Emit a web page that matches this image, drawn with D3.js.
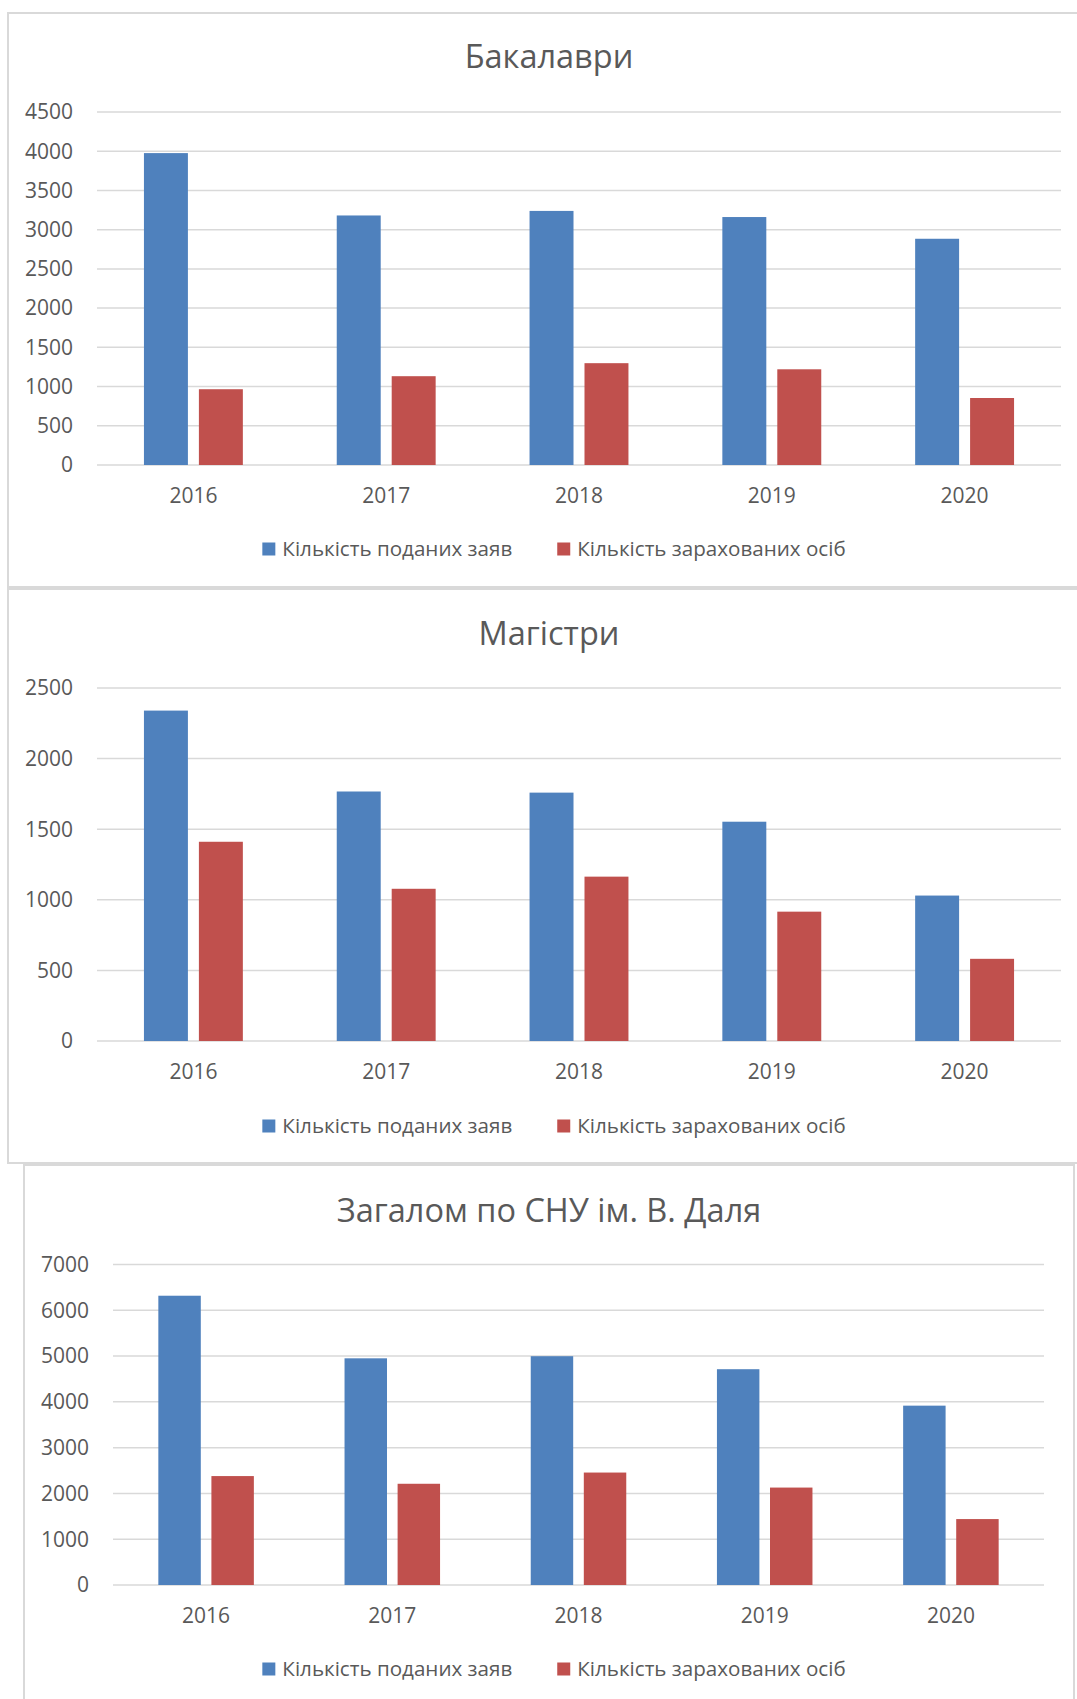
<!DOCTYPE html>
<html>
<head>
    <meta charset="utf-8">
    <script src="https://cdn.jsdelivr.net/npm/d3@7/dist/d3.min.js"></script>
    <title>Вступ СНУ ім. В. Даля</title>
    <style>
        body {
            margin: 0;
            background-color: #ffffff;
            font-family: "Open Sans", sans-serif;
        }
        .frame { fill: #ffffff; stroke: #d9d9d9; stroke-width: 2; }
        .grid line { stroke: #d9d9d9; stroke-width: 1.5; }
        .lbl { fill: #595959; }
    </style>
</head>
<body>
<svg width="1077" height="1699"></svg>

<script>
    // дані, зчитані з діаграм
    const years = ["2016", "2017", "2018", "2019", "2020"];
    const seriesNames = ["Кількість поданих заяв", "Кількість зарахованих осіб"];
    const seriesColors = ["#4f81bd", "#c0504d"];

    const bachelorApplied = [3976, 3181, 3239, 3161, 2884];
    const bachelorEnrolled = [966, 1132, 1298, 1220, 854];

    const masterApplied = [2340, 1767, 1759, 1553, 1030];
    const masterEnrolled = [1411, 1078, 1164, 916, 582];

    const totalApplied = [6318, 4951, 4997, 4713, 3917];
    const totalEnrolled = [2379, 2211, 2456, 2128, 1440];

    const bachelorTicks = [0, 500, 1000, 1500, 2000, 2500, 3000, 3500, 4000, 4500];
    const masterTicks = [0, 500, 1000, 1500, 2000, 2500];
    const totalTicks = [0, 1000, 2000, 3000, 4000, 5000, 6000, 7000];

    const svg = d3.select("svg");

    // розміщення кожної діаграми на сторінці
    const charts = [
        {
            title: "Бакалаври", applied: bachelorApplied, enrolled: bachelorEnrolled, ticks: bachelorTicks,
            frame: [8, 13, 1082, 574], left: 97, right: 1061, top: 112, bottom: 465,
            titleY: 68, xLabelY: 503, legendY: 549
        },
        {
            title: "Магістри", applied: masterApplied, enrolled: masterEnrolled, ticks: masterTicks,
            frame: [8, 589, 1082, 574], left: 97, right: 1061, top: 688, bottom: 1041,
            titleY: 645, xLabelY: 1079, legendY: 1126
        },
        {
            title: "Загалом по СНУ ім. В. Даля", applied: totalApplied, enrolled: totalEnrolled, ticks: totalTicks,
            frame: [24, 1165, 1050, 600], left: 113, right: 1044, top: 1264.5, bottom: 1585,
            titleY: 1222, xLabelY: 1623, legendY: 1669
        }
    ];

    charts.forEach(function (c) {
        const g = svg.append("g");

        g.append("rect").attr("class", "frame")
            .attr("x", c.frame[0]).attr("y", c.frame[1])
            .attr("width", c.frame[2]).attr("height", c.frame[3]);

        const x = d3.scaleBand()
            .domain(years)
            .range([c.left, c.right])
            .paddingInner(0.487)
            .paddingOuter(0.2435);

        const xSub = d3.scaleBand()
            .domain([0, 1])
            .range([0, x.bandwidth()])
            .paddingInner(0.2);

        const y = d3.scaleLinear()
            .domain([0, d3.max(c.ticks)])
            .range([c.bottom, c.top]);

        // сітка
        g.append("g").attr("class", "grid")
            .selectAll("line")
            .data(c.ticks)
            .enter().append("line")
            .attr("x1", c.left).attr("x2", c.right)
            .attr("y1", d => y(d)).attr("y2", d => y(d));

        // підписи осі Y
        g.append("g")
            .selectAll("text")
            .data(c.ticks)
            .enter().append("text")
            .attr("class", "lbl")
            .attr("x", c.left - 24)
            .attr("y", d => y(d))
            .attr("dy", "0.35em")
            .attr("text-anchor", "end")
            .style("font-size", "21px")
            .text(d => d);

        // стовпчики
        const rows = years.map((yr, i) => ({year: yr, values: [c.applied[i], c.enrolled[i]]}));
        const groups = g.append("g")
            .selectAll("g")
            .data(rows)
            .enter().append("g")
            .attr("transform", d => "translate(" + x(d.year) + ",0)");

        groups.selectAll("rect")
            .data(d => d.values)
            .enter().append("rect")
            .attr("x", (d, i) => xSub(i))
            .attr("width", xSub.bandwidth())
            .attr("y", d => y(d))
            .attr("height", d => y(0) - y(d))
            .attr("fill", (d, i) => seriesColors[i]);

        // підписи осі X
        g.append("g")
            .selectAll("text")
            .data(years)
            .enter().append("text")
            .attr("class", "lbl")
            .attr("x", d => x(d) + x.bandwidth() / 2)
            .attr("y", c.xLabelY)
            .attr("text-anchor", "middle")
            .style("font-size", "21px")
            .text(d => d);

        // заголовок
        g.append("text")
            .attr("class", "lbl")
            .attr("x", 549)
            .attr("y", c.titleY)
            .attr("text-anchor", "middle")
            .style("font-size", "32.5px")
            .text(c.title);

        // легенда
        const legend = g.append("g");
        let cx = 0;
        seriesNames.forEach(function (name, i) {
            legend.append("rect")
                .attr("x", cx).attr("y", c.legendY - 6.5)
                .attr("width", 13).attr("height", 13)
                .attr("fill", seriesColors[i]);
            const t = legend.append("text")
                .attr("class", "lbl")
                .attr("x", cx + 20)
                .attr("y", c.legendY)
                .attr("dy", "0.35em")
                .style("font-size", "20.6px")
                .text(name);
            cx += 20 + t.node().getComputedTextLength() + 45;
        });
        const legendWidth = cx - 45;
        legend.attr("transform", "translate(" + (554 - legendWidth / 2) + ",0)");
    });
</script>
</body>
</html>
